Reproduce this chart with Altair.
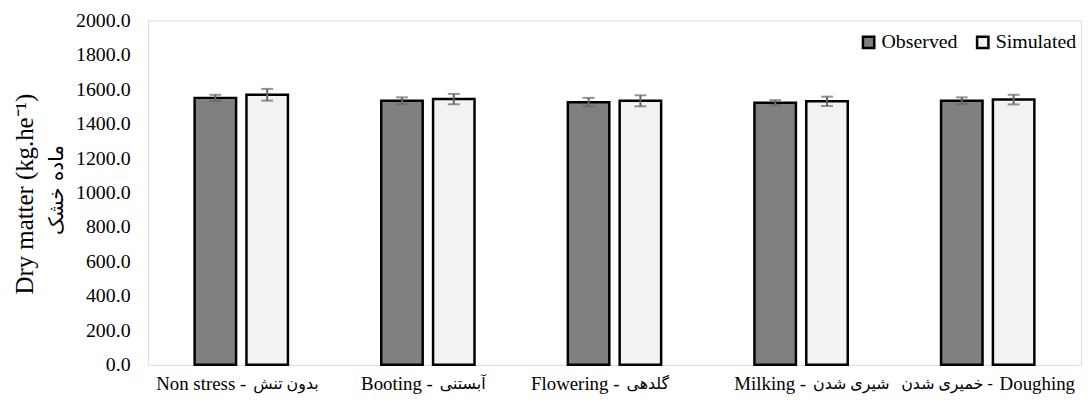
import altair as alt
import pandas as pd

stages = ["Non stress", "Booting", "Flowering", "Milking", "Doughing"]
label_left = ["Non stress -", "Booting -", "Flowering -", "Milking -", "خمیری شدن -"]
label_right = ["بدون تنش", "آبستنی", "گلدهی", "شیری شدن", "Doughing"]
series = ["Observed", "Simulated"]
observed = [1550, 1533, 1525, 1522, 1533]
observed_err = [18, 20, 25, 15, 20]
simulated = [1568, 1543, 1533, 1530, 1540]
simulated_err = [34, 30, 32, 27, 28]
y_ticks = [0, 200, 400, 600, 800, 1000, 1200, 1400, 1600, 1800, 2000]

rows = []
for i, s in enumerate(stages):
    rows.append({"stage": s, "series": "Observed", "value": observed[i],
                 "lo": observed[i] - observed_err[i], "hi": observed[i] + observed_err[i]})
    rows.append({"stage": s, "series": "Simulated", "value": simulated[i],
                 "lo": simulated[i] - simulated_err[i], "hi": simulated[i] + simulated_err[i]})
df = pd.DataFrame(rows)


def is_persian(t):
    return any("\u0600" <= ch <= "\u06ff" for ch in t)


labels = pd.DataFrame({
    "stage": stages,
    "left": label_left,
    "right": label_right,
    "lsize": [16 if is_persian(t) else 19 for t in label_left],
    "rsize": [16 if is_persian(t) else 19 for t in label_right],
})

FONT = "Liberation Serif, DejaVu Sans"

x = alt.X("stage:N", sort=stages, title=None,
          scale=alt.Scale(paddingInner=0.5, paddingOuter=0.25),
          axis=alt.Axis(labels=False, ticks=False, domain=False, title=None))
xo = alt.XOffset("series:N", sort=series, scale=alt.Scale(paddingInner=0.2, paddingOuter=0))
yscale = alt.Scale(domain=[0, 2000], nice=False)
yaxis = alt.Axis(values=y_ticks, format=".1f", grid=False, labelOverlap=False,
                 ticks=False, domain=False, labelFontSize=20, labelFont="Liberation Serif",
                 labelColor="black", labelPadding=18, title=None)

bars = alt.Chart(df).mark_bar(stroke="black", strokeWidth=2.5).encode(
    x=x, xOffset=xo,
    y=alt.Y("value:Q", scale=yscale, title=None, axis=yaxis),
    fill=alt.Fill("series:N", sort=series,
                  scale=alt.Scale(domain=series, range=["#808080", "#f2f2f2"]),
                  legend=alt.Legend(title=None, orient="none", direction="horizontal",
                                    legendX=716, legendY=12, symbolType="square",
                                    symbolSize=130, symbolStrokeColor="black",
                                    symbolStrokeWidth=2.5, labelFontSize=20, labelFont=FONT,
                                    labelColor="black", columnPadding=14, labelOffset=3)),
)

err = alt.Chart(df).mark_rule(color="#666666", strokeWidth=2).encode(
    x=x, xOffset=xo, y=alt.Y("lo:Q", scale=yscale, title=None, axis=yaxis), y2="hi:Q")
cap_hi = alt.Chart(df).mark_tick(color="#666666", thickness=2, size=12).encode(
    x=x, xOffset=xo, y=alt.Y("hi:Q", scale=yscale, title=None, axis=yaxis))
cap_lo = alt.Chart(df).mark_tick(color="#666666", thickness=2, size=12).encode(
    x=x, xOffset=xo, y=alt.Y("lo:Q", scale=yscale, title=None, axis=yaxis))

xl_left = alt.Chart(labels).mark_text(align="right", baseline="middle", dx=5, font=FONT,
                                      color="black").encode(
    x=x, text="left:N", size=alt.Size("lsize:Q", scale=None, legend=None), y=alt.value(366))
xl_right = alt.Chart(labels).mark_text(align="left", baseline="middle", dx=12, font=FONT,
                                       color="black").encode(
    x=x, text="right:N", size=alt.Size("rsize:Q", scale=None, legend=None), y=alt.value(366))

lab = pd.DataFrame({"t": ["Dry matter (kg.he⁻¹)"]})
title1 = alt.Chart(lab).mark_text(angle=270, fontSize=25, font="Liberation Serif", color="black",
                                  align="center", baseline="middle").encode(
    text="t:N", x=alt.value(-124), y=alt.value(175))
lab2 = pd.DataFrame({"t": ["ماده خشک"]})
title2 = alt.Chart(lab2).mark_text(angle=270, fontSize=20, font="DejaVu Sans", color="black",
                                   align="center", baseline="middle").encode(
    text="t:N", x=alt.value(-92), y=alt.value(171))

chart = alt.layer(bars, err, cap_hi, cap_lo, xl_left, xl_right, title1, title2).properties(
    width=940, height=347,
    autosize=alt.AutoSizeParams(type="none"),
    padding={"left": 141, "top": 11, "right": 2, "bottom": 39},
).configure_view(stroke="black", strokeWidth=2).configure_axisY(labelOverlap=False).configure(background="white")

chart.save("out.html", embed_options={"renderer": "svg", "actions": False})
